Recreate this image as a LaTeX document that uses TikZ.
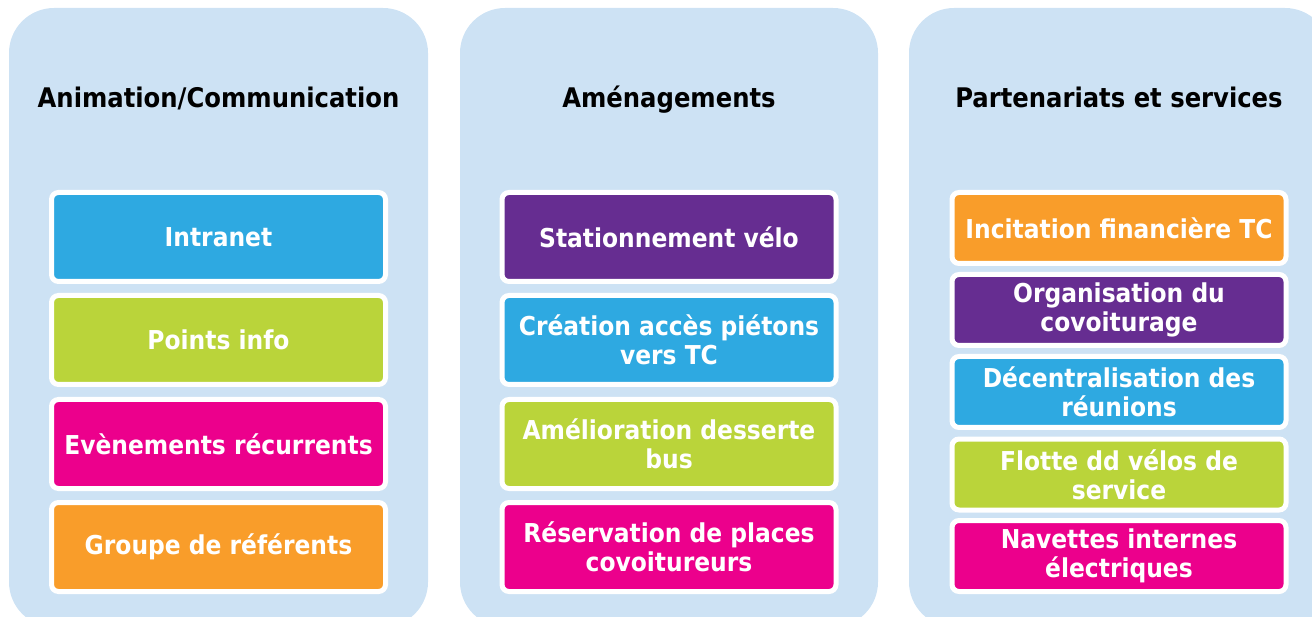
\documentclass[tikz,border=0pt]{standalone}
\usepackage{fontspec}
\setmainfont{DejaVu Sans Condensed}
\definecolor{panelbg}{RGB}{205,226,244}
\definecolor{cblue}{RGB}{46,169,225}
\definecolor{cgreen}{RGB}{186,212,58}
\definecolor{cmag}{RGB}{236,0,140}
\definecolor{corange}{RGB}{249,157,42}
\definecolor{cpurple}{RGB}{102,45,145}
\begin{document}
\begin{tikzpicture}[x=1pt,y=-1pt,
  panel/.style={fill=panelbg, rounded corners=45pt},
  title/.style={anchor=base, font=\fontsize{27}{29}\selectfont\bfseries, text=black},
  item/.style={draw=white, line width=5pt, rounded corners=7pt, text=white,
    font=\fontsize{26}{29}\selectfont\bfseries, align=center, inner sep=0pt,
    minimum width=334pt},
  tall/.style={item, minimum height=89pt},
  short/.style={item, minimum height=71pt}]
\useasboundingbox (0,0) rectangle (1312,617);
\clip (0,0) rectangle (1312,617);
\fill[panel] (9,8) rectangle (428,627);
\fill[panel] (460,8) rectangle (878,627);
\fill[panel] (909,8) rectangle (1330,627);

\node[title] (t1) at (218.5,108) {Animation/Communication};
\node[title] (t2) at (669,108) {Aménagements};
\node[title] (t3) at (1119,108) {Partenariats et services};

\node[tall, fill=cblue]   (a1) at (218.5,237) {Intranet};
\node[tall, fill=cgreen]  (a2) at (218.5,340) {Points info};
\node[tall, fill=cmag]    (a3) at (218.5,444) {Evènements récurrents};
\node[tall, fill=corange] (a4) at (218.5,547) {Groupe de référents};

\node[tall, fill=cpurple] (b1) at (669,237) {Stationnement vélo};
\node[tall, fill=cblue]   (b2) at (669,340) {Création accès piétons\\vers TC};
\node[tall, fill=cgreen]  (b3) at (669,444) {Amélioration desserte\\bus};
\node[tall, fill=cmag]    (b4) at (669,547) {Réservation de places\\covoitureurs};

\node[short, fill=corange] (c1) at (1119,228) {Incitation financière TC};
\node[short, fill=cpurple] (c2) at (1119,310) {Organisation du\\covoiturage};
\node[short, fill=cblue]   (c3) at (1119,392) {Décentralisation des\\réunions};
\node[short, fill=cgreen]  (c4) at (1119,474.5) {Flotte dd vélos de\\service};
\node[short, fill=cmag]    (c5) at (1119,556) {Navettes internes\\électriques};
\end{tikzpicture}
\end{document}
